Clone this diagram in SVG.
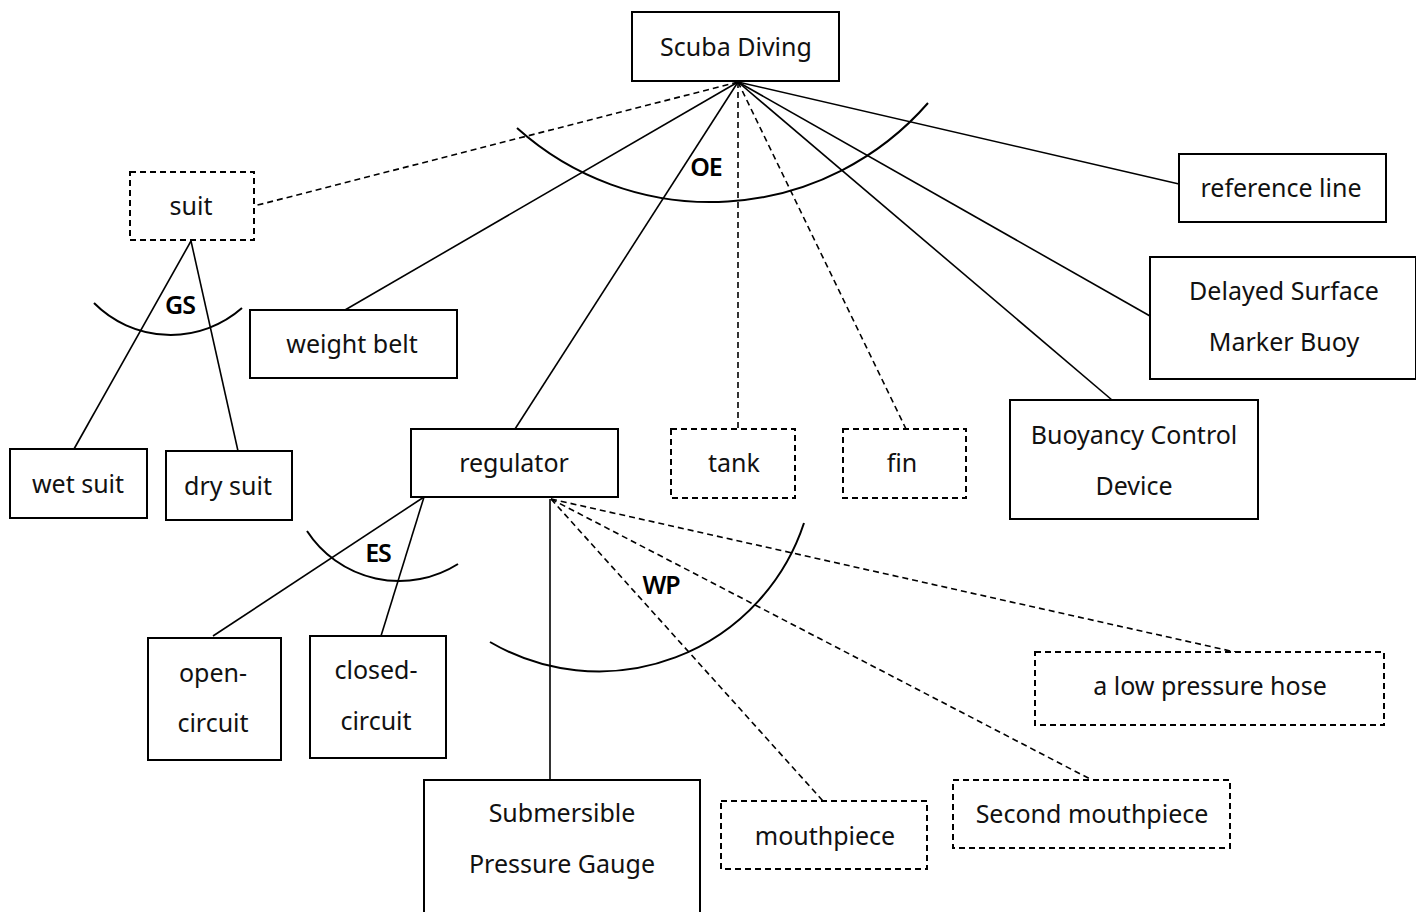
<svg xmlns="http://www.w3.org/2000/svg" width="1416" height="912" viewBox="0 0 1416 912">
<style>
.box{fill:#fff;stroke:#000;stroke-width:2}
.dbox{fill:#fff;stroke:#000;stroke-width:2;stroke-dasharray:6,4}
.t{font-family:"Noto Sans","Open Sans",sans-serif;font-size:25px;fill:#111;text-anchor:middle}
.lbl{font-family:"Noto Sans","Open Sans",sans-serif;font-size:25px;font-weight:600;fill:#000;text-anchor:middle;letter-spacing:-1px}
.ln{stroke:#000;stroke-width:1.6;fill:none}
.dl{stroke:#000;stroke-width:1.6;fill:none;stroke-dasharray:6,4}
.arc{stroke:#000;stroke-width:2;fill:none}
</style>
<rect width="1416" height="912" fill="#fff"/>
<g id="connectors">
<line class="dl" x1="738" y1="82" x2="254" y2="206"/>
<line class="ln" x1="738" y1="82" x2="345" y2="310"/>
<line class="ln" x1="738" y1="82" x2="515" y2="429"/>
<line class="dl" x1="738" y1="82" x2="738" y2="429"/>
<line class="dl" x1="738" y1="82" x2="906" y2="429"/>
<line class="ln" x1="738" y1="82" x2="1112" y2="400"/>
<line class="ln" x1="738" y1="82" x2="1150" y2="316"/>
<line class="ln" x1="738" y1="82" x2="1179" y2="184"/>
<line class="ln" x1="191" y1="241" x2="74" y2="449"/>
<line class="ln" x1="191" y1="241" x2="238" y2="451"/>
<line class="ln" x1="424" y1="497" x2="213" y2="636"/>
<line class="ln" x1="424" y1="497" x2="381" y2="636"/>
<line class="ln" x1="550" y1="499" x2="550" y2="780"/>
<line class="dl" x1="551" y1="499" x2="823" y2="801"/>
<line class="dl" x1="551" y1="499" x2="1092" y2="780"/>
<line class="dl" x1="551" y1="499" x2="1235" y2="652"/>
</g>
<g id="arcs">
<path class="arc" d="M517,128 A289,289 0 0,0 928,103"/>
<path class="arc" d="M94,303 A108,108 0 0,0 242,308"/>
<path class="arc" d="M307,531 A110,110 0 0,0 458,564"/>
<path class="arc" d="M490,642 A216,216 0 0,0 804,523"/>
<text class="lbl" x="706" y="176">OE</text>
<text class="lbl" x="180" y="314">GS</text>
<text class="lbl" x="378" y="562">ES</text>
<text class="lbl" x="661" y="594">WP</text>
</g>
<g id="scuba"><rect class="box" x="632" y="12" width="207" height="69"/><text class="t" x="736" y="56">Scuba Diving</text></g>
<g id="suit"><rect class="dbox" x="130" y="172" width="124" height="68"/><text class="t" x="191" y="215">suit</text></g>
<g id="weightbelt"><rect class="box" x="250" y="310" width="207" height="68"/><text class="t" x="352" y="353">weight belt</text></g>
<g id="wetsuit"><rect class="box" x="10" y="449" width="137" height="69"/><text class="t" x="78" y="493">wet suit</text></g>
<g id="drysuit"><rect class="box" x="166" y="451" width="126" height="69"/><text class="t" x="228" y="495">dry suit</text></g>
<g id="regulator"><rect class="box" x="411" y="429" width="207" height="68"/><text class="t" x="514" y="472">regulator</text></g>
<g id="tank"><rect class="dbox" x="671" y="429" width="124" height="69"/><text class="t" x="734" y="472">tank</text></g>
<g id="fin"><rect class="dbox" x="843" y="429" width="123" height="69"/><text class="t" x="902" y="472">fin</text></g>
<g id="bcd"><rect class="box" x="1010" y="400" width="248" height="119"/><text class="t" x="1134" y="444">Buoyancy Control</text><text class="t" x="1134" y="495">Device</text></g>
<g id="dsmb"><rect class="box" x="1150" y="257" width="266" height="122"/><text class="t" x="1284" y="300">Delayed Surface</text><text class="t" x="1284" y="351">Marker Buoy</text></g>
<g id="refline"><rect class="box" x="1179" y="154" width="207" height="68"/><text class="t" x="1281" y="197">reference line</text></g>
<g id="openc"><rect class="box" x="148" y="638" width="133" height="122"/><text class="t" x="213" y="682">open-</text><text class="t" x="213" y="732">circuit</text></g>
<g id="closedc"><rect class="box" x="310" y="636" width="136" height="122"/><text class="t" x="376" y="679">closed-</text><text class="t" x="376" y="730">circuit</text></g>
<g id="spg"><rect class="box" x="424" y="780" width="276" height="140"/><text class="t" x="562" y="822">Submersible</text><text class="t" x="562" y="873">Pressure Gauge</text></g>
<g id="mouthpiece"><rect class="dbox" x="721" y="801" width="206" height="68"/><text class="t" x="825" y="845">mouthpiece</text></g>
<g id="secondmp"><rect class="dbox" x="953" y="780" width="277" height="68"/><text class="t" x="1092" y="823">Second mouthpiece</text></g>
<g id="lphose"><rect class="dbox" x="1035" y="652" width="349" height="73"/><text class="t" x="1210" y="695">a low pressure hose</text></g>
</svg>
